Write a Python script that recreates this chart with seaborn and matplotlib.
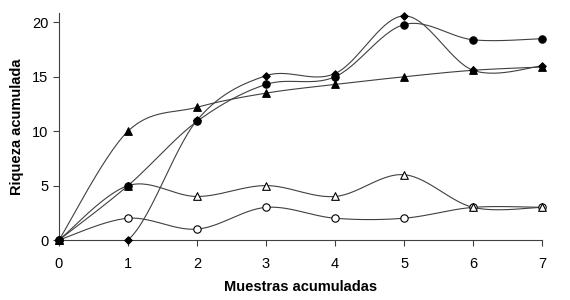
import numpy as np
import pandas as pd
import seaborn as sns
import matplotlib.pyplot as plt

muestras = [0, 1, 2, 3, 4, 5, 6, 7]
rombo_lleno = [0, 0, 11, 15.1, 15.3, 20.6, 15.6, 16.0]
circulo_lleno = [0, 5, 10.9, 14.3, 15.0, 19.8, 18.4, 18.5]
triangulo_lleno = [0, 10, 12.2, 13.5, 14.3, 15.0, 15.6, 15.9]
triangulo_vacio = [0, 5, 4, 5, 4, 6, 3, 3]
circulo_vacio = [0, 2, 1, 3, 2, 2, 3, 3]

sns.set_style('ticks')
plt.rcParams['font.family'] = ['Liberation Sans', 'DejaVu Sans']


def smooth(x, y, n=30):
    # excel-like smoothed line (bezier through the points)
    x = np.asarray(x, float)
    y = np.asarray(y, float)
    px = np.concatenate([[x[0]], x, [x[-1]]])
    py = np.concatenate([[y[0]], y, [y[-1]]])
    xs, ys = [], []
    t = np.linspace(0, 1, n)
    for i in range(1, len(px) - 2):
        p0 = np.array([px[i], py[i]])
        p3 = np.array([px[i + 1], py[i + 1]])
        p1 = p0 + (np.array([px[i + 1], py[i + 1]]) - np.array([px[i - 1], py[i - 1]])) / 6
        p2 = p3 - (np.array([px[i + 2], py[i + 2]]) - np.array([px[i], py[i]])) / 6
        b = ((1 - t) ** 3)[:, None] * p0 + (3 * (1 - t) ** 2 * t)[:, None] * p1 \
            + (3 * (1 - t) * t ** 2)[:, None] * p2 + (t ** 3)[:, None] * p3
        xs.extend(b[:, 0])
        ys.extend(b[:, 1])
    return xs, ys


series = [
    (circulo_vacio, 'o', 'white', 5.3),
    (triangulo_vacio, '^', 'white', 5.5),
    (triangulo_lleno, '^', 'black', 5.5),
    (circulo_lleno, 'o', 'black', 5.3),
    (rombo_lleno, 'D', 'black', 3.8),
]

fig = plt.figure(figsize=(5.7, 3.0), dpi=100)
ax = fig.add_axes([0.1035, 0.2, 0.8475, 0.758])

for vals, mk, fc, ms in series:
    xs, ys = smooth(muestras, vals)
    ax.plot(xs, ys, color='#404040', lw=0.8, zorder=2)
    df = pd.DataFrame({'x': muestras, 'y': vals})
    sns.scatterplot(data=df, x='x', y='y', marker=mk, color=fc, edgecolor='black',
                    linewidth=0.8, s=ms ** 2, clip_on=False, zorder=3, ax=ax)

ax.set_xlim(0, 7)
ax.set_ylim(0, 20.9)
ax.set_xticks(range(0, 8))
ax.set_yticks([0, 5, 10, 15, 20])
ax.tick_params(labelsize=10.5, length=4, width=0.8, color='#404040', labelcolor='black')
ax.tick_params(axis='x', pad=8)
for s in ['left', 'bottom']:
    ax.spines[s].set_color('#404040')
    ax.spines[s].set_linewidth(0.8)
sns.despine(ax=ax)
ax.set_xlabel('Muestras acumuladas', fontsize=10.5, fontweight='bold', labelpad=7, color='black')
ax.set_ylabel('Riqueza acumulada', fontsize=10.5, fontweight='bold', labelpad=6, color='black')

plt.savefig('out.png', dpi=100)
